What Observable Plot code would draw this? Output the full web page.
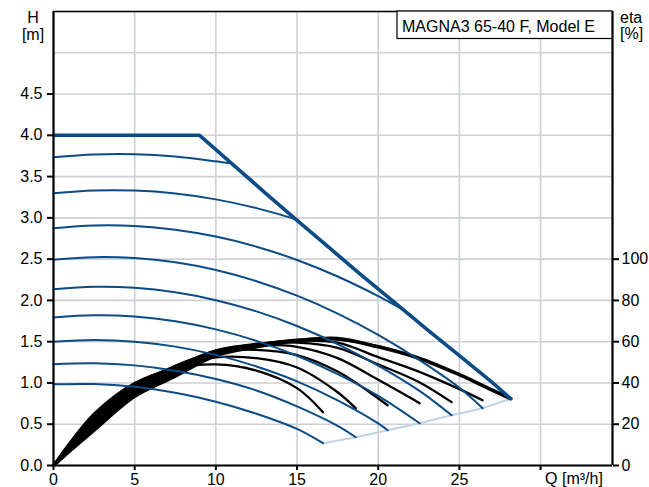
<!DOCTYPE html>
<html><head><meta charset="utf-8">
<script src="https://cdn.jsdelivr.net/npm/d3@7"></script>
<script src="https://cdn.jsdelivr.net/npm/@observablehq/plot@0.6"></script>
<style>body{margin:0;background:#fff}#chart svg{display:block}</style>
</head><body><div id="chart"></div>
<script>
// ---- axis ticks ----
const qTicks = [0, 5, 10, 15, 20, 25, 30];
const hTicks = [0, 0.5, 1, 1.5, 2, 2.5, 3, 3.5, 4, 4.5];
const hGrid = [0, 0.5, 1, 1.5, 2, 2.5, 3, 3.5, 4, 4.5, 5, 5.5];
const etaTicks = [0, 20, 40, 60, 80, 100];
const etaPerH = 40;
const qMax = 34.43, hMax = 5.5;

// ---- pump (speed) curves H [m] ----
const blueQ = [
  [0, 2.5, 5, 7.5, 10, 12.5, 15, 16.6],
  [0, 2.5, 5, 7.5, 10, 12.5, 15, 17.5, 18.62],
  [0, 2.5, 5, 7.5, 10, 12.5, 15, 17.5, 20, 20.58],
  [0, 2.5, 5, 7.5, 10, 12.5, 15, 17.5, 20, 22.55],
  [0, 2.5, 5, 7.5, 10, 12.5, 15, 17.5, 20, 22.5, 24.52],
  [0, 2.5, 5, 7.5, 10, 12.5, 15, 17.5, 20, 22.5, 25, 26.43],
  [0, 2.5, 5, 7.5, 10, 12.5, 15, 17.5, 20, 21.5],
  [0, 2.5, 5, 7.5, 10, 12.5, 15],
  [0, 2.5, 5, 7.5, 10, 10.9]
];
const blueH = [
  [0.983, 0.987, 0.953, 0.882, 0.773, 0.627, 0.443, 0.27],
  [1.228, 1.239, 1.213, 1.149, 1.048, 0.909, 0.716, 0.48, 0.342],
  [1.50, 1.52, 1.50, 1.44, 1.34, 1.20, 1.02, 0.79, 0.51, 0.427],
  [1.794, 1.82, 1.804, 1.747, 1.649, 1.51, 1.329, 1.107, 0.844, 0.512],
  [2.135, 2.164, 2.152, 2.098, 2.003, 1.867, 1.69, 1.471, 1.211, 0.91, 0.609],
  [2.493, 2.524, 2.513, 2.461, 2.368, 2.233, 2.058, 1.841, 1.583, 1.283, 0.942, 0.694],
  [2.875, 2.908, 2.902, 2.857, 2.773, 2.651, 2.49, 2.29, 2.052, 1.89],
  [3.297, 3.331, 3.330, 3.295, 3.224, 3.118, 2.978],
  [3.735, 3.769, 3.772, 3.744, 3.685, 3.66]
];
// max curve
const maxQ = [0, 9, 11, 13, 15, 17, 19, 21, 23, 25, 27, 28.16];
const maxH = [4, 4, 3.655, 3.31, 2.97, 2.635, 2.30, 1.975, 1.65, 1.33, 1.01, 0.81];
// min / end line
const minQ = [16.6, 18.62, 20.58, 22.55, 24.52, 26.43, 28.16];
const minH = [0.27, 0.342, 0.427, 0.512, 0.609, 0.694, 0.81];

// ---- efficiency curves eta [%] (one per speed curve) ----
const etaQ = [
  [0, 1, 2.5, 5, 7.5, 10, 12.5, 15, 16.6],
  [0, 1, 2.5, 5, 7.5, 10, 12.5, 15, 17.5, 18.62],
  [0, 1, 2.5, 5, 7.5, 10, 12.5, 15, 17.5, 20, 20.58],
  [0, 1, 2.5, 5, 7.5, 10, 12.5, 15, 17.5, 20, 22.55],
  [0, 1, 2.5, 5, 7.5, 10, 12.5, 15, 17.5, 20, 22.5, 24.52],
  [0, 1, 2.5, 5, 7.5, 10, 12.5, 15, 17.5, 20, 22.5, 25, 26.43],
  [0, 1, 2.5, 5, 7.5, 10, 12.5, 15, 17.5, 20, 21.5],
  [0, 1, 2.5, 5, 7.5, 10, 12.5, 15],
  [0, 1, 2.5, 5, 7.5, 10, 10.9]
];
const etaV = [
  [0, 11, 25.2, 40, 47, 49, 46, 37.5, 25.8],
  [0, 10.5, 24.2, 39.3, 47.8, 52.4, 52, 47.5, 35.5, 27.7],
  [0, 10, 23.2, 38.5, 48.3, 55, 56, 53.5, 45.5, 32.5, 29.2],
  [0, 9.5, 22.2, 37.6, 47.8, 55.8, 58.3, 57.5, 52, 41.5, 30.2],
  [0, 9.1, 21.3, 36.8, 47.1, 55.6, 59, 59.5, 57, 49, 40.5, 30.7],
  [0, 8.7, 20.4, 36, 46.3, 55, 58.7, 60.5, 59.5, 52.5, 45.5, 37, 31.6],
  [0, 8.3, 19.5, 35.3, 45.5, 54.5, 58.5, 61, 61, 57.8, 54.4],
  [0, 7.9, 18.7, 34.6, 44.7, 54, 58.5, 60.5],
  [0, 7.5, 17.9, 34, 44, 54.2, 55]
];
const etaMaxQ = [0, 1, 2.5, 5, 7.5, 10, 12.5, 15, 17.5, 20, 22.5, 25, 26.5, 28.16];
const etaMaxV = [0, 7.1, 17.2, 33.6, 43.3, 53.3, 57.5, 60.5, 61.5, 57.5, 52, 44, 38.5, 32.4];

// ---- build tables ----
const rows = (Qs, Vs, id, k = 1) => Qs.map((q, i) => ({id, Q: q, H: Vs[i] / k}));
const blueRows = blueQ.flatMap((qs, i) => rows(qs, blueH[i], "b" + i));
const maxRows = rows(maxQ, maxH, "max");
const minRows = rows(minQ, minH, "min");
const effRows = etaQ.flatMap((qs, i) => rows(qs, etaV[i], "e" + i, etaPerH));
const effMaxRows = rows(etaMaxQ, etaMaxV, "emax", etaPerH);

const blue = "#0b4b86";
const gridC = "#cdd0d4";
const font = "'Liberation Sans', Arial, Helvetica, sans-serif";

const plot = Plot.plot({
  width: 649, height: 487,
  marginLeft: 53, marginRight: 37, marginTop: 11, marginBottom: 22,
  style: {fontFamily: font, fontSize: "16px", background: "#fff", color: "#000"},
  x: {domain: [0, qMax], label: null},
  y: {domain: [0, hMax], label: null},
  marks: [
    Plot.ruleX(qTicks, {stroke: gridC, strokeWidth: 1.6}),
    Plot.ruleY(hGrid, {stroke: gridC, strokeWidth: 1.6}),
    Plot.line(minRows, {x: "Q", y: "H", stroke: "#bed3e9", strokeWidth: 2}),
    Plot.line(effRows, {x: "Q", y: "H", z: "id", stroke: "#000", strokeWidth: 2.3, curve: "catmull-rom"}),
    Plot.line(effMaxRows, {x: "Q", y: "H", stroke: "#000", strokeWidth: 3.6, curve: "catmull-rom"}),
    Plot.line(blueRows, {x: "Q", y: "H", z: "id", stroke: blue, strokeWidth: 2, curve: "catmull-rom"}),
    Plot.line(maxRows, {x: "Q", y: "H", stroke: blue, strokeWidth: 3.6, curve: "linear"}),
    Plot.axisX(qTicks, {tickSize: 5, tickPadding: 3, strokeWidth: 2, tickFormat: d => d === 30 ? "" : String(d), label: null}),
    Plot.axisY(hTicks, {tickSize: 6, tickPadding: 5, strokeWidth: 2, tickFormat: d => d.toFixed(1), label: null}),
    Plot.axisY(etaTicks.map(e => e / etaPerH), {anchor: "right", tickSize: 6, tickPadding: 3, strokeWidth: 2, tickFormat: d => String(Math.round(d * etaPerH)), label: null}),
    Plot.ruleY([hMax], {stroke: "#000", strokeWidth: 1.5}),
    Plot.ruleX([0, qMax], {stroke: "#000", strokeWidth: 2.2}),
    Plot.ruleY([0], {stroke: "#000", strokeWidth: 2.2})
  ]
});

const svg = d3.select(plot);
const xs = plot.scale("x"), ys = plot.scale("y");
const xR = xs.apply(qMax), yT = ys.apply(hMax);
// title box
svg.append("rect").attr("x", 397).attr("y", yT).attr("width", xR - 397).attr("height", 27.5)
  .attr("fill", "#fff").attr("stroke", "#000").attr("stroke-width", 1.2);
const addText = (x, y, t, anchor) => svg.append("text").attr("x", x).attr("y", y)
  .attr("font-family", font).attr("font-size", 16).attr("text-anchor", anchor).attr("fill", "#000").text(t);
addText(402, yT + 21, "MAGNA3 65-40 F, Model E", "start");
// axis titles
addText(33, 23, "H", "middle");
addText(33, 40, "[m]", "middle");
addText(620, 23, "eta", "start");
addText(620, 39, "[%]", "start");
addText(xs.apply(30) + 5, 484, "Q [m³/h]", "start");

document.getElementById("chart").appendChild(plot);
</script>
</body></html>
